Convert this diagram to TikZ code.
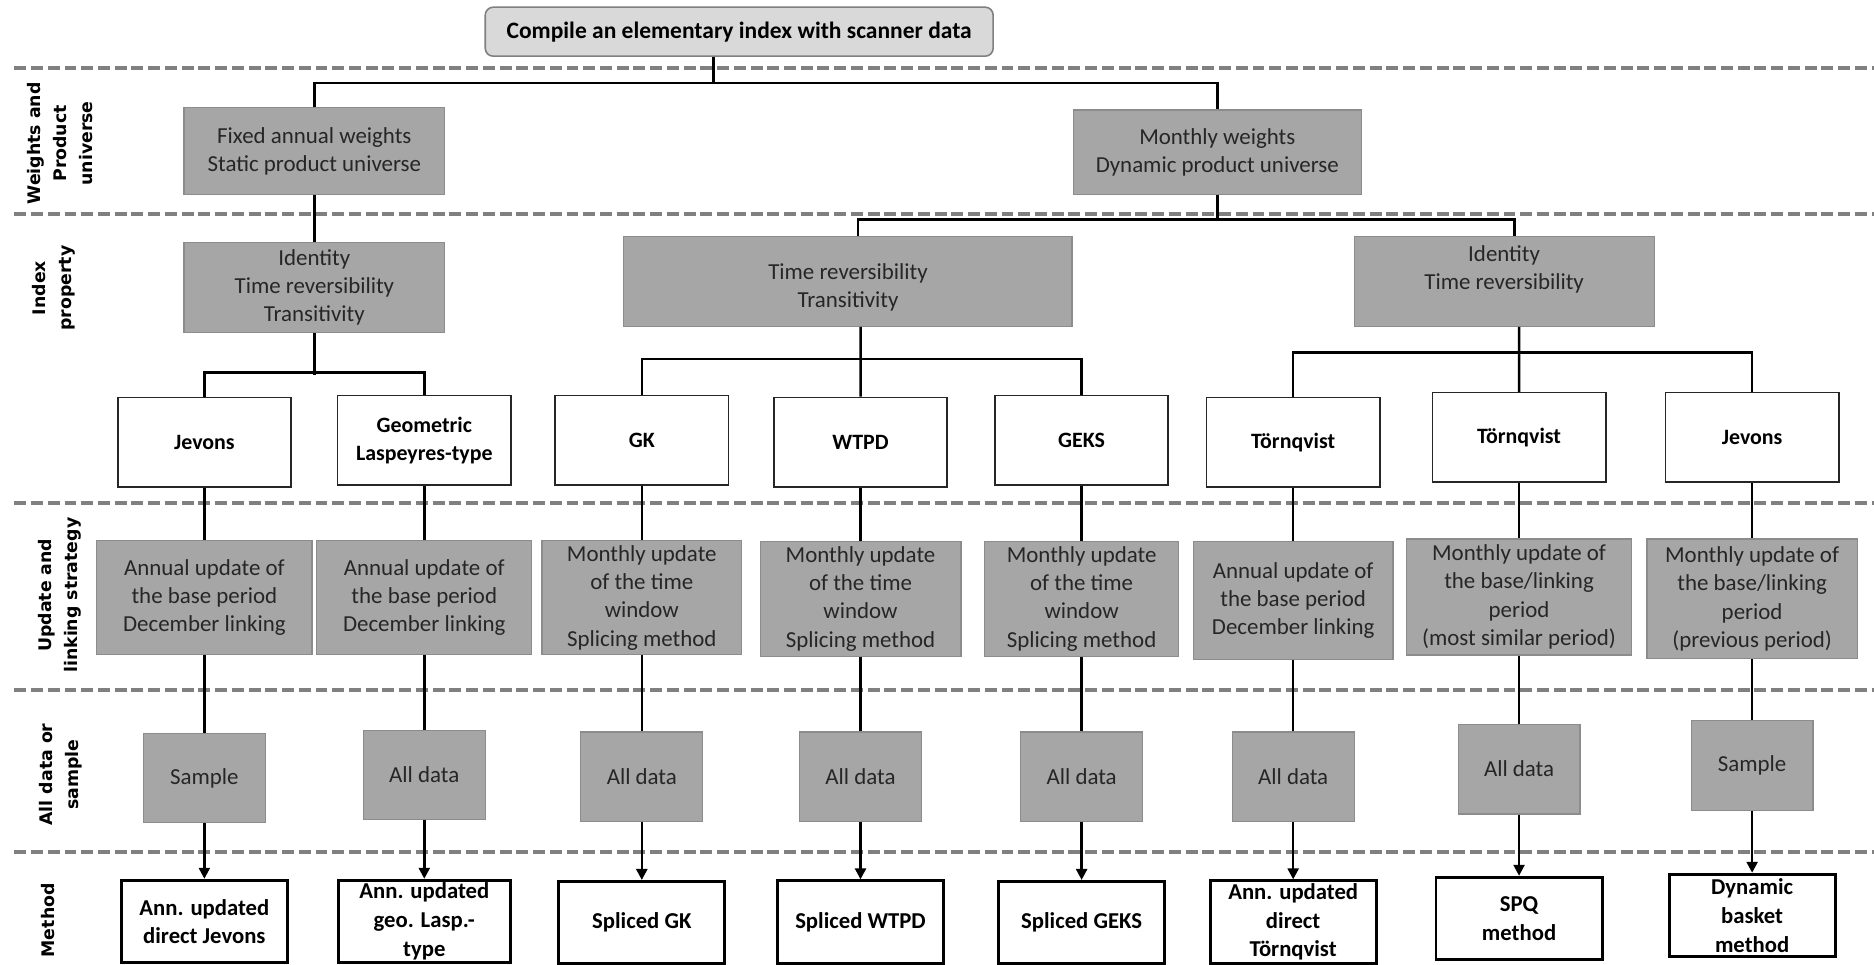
\documentclass[tikz,border=0pt]{standalone}
\usepackage{fontspec}
\setmainfont{Carlito}
\newfontfamily\sidefont{DejaVu Sans}
\usetikzlibrary{arrows.meta}
\definecolor{boxgray} {HTML}{A6A6A6}
\definecolor{boxedge} {HTML}{8C8C8C}
\definecolor{topgray} {HTML}{D9D9D9}
\definecolor{rulegray}{HTML}{808080}
\definecolor{ink}     {HTML}{262626}
\tikzset{
  headbox/.style={draw=rulegray,line width=0.8pt,rounded corners=4pt,fill=topgray,
                  minimum width=255pt,minimum height=24.6pt,inner sep=0pt,
                  font=\fontsize{11.8}{14}\selectfont\bfseries},
  greybox/.style={draw=boxedge,line width=0.6pt,fill=boxgray,align=center,
                  inner sep=0pt,text=ink,font=\fontsize{11.5}{14.2}\selectfont},
  indexbox/.style={draw=black!85,line width=0.8pt,fill=white,align=center,
                   inner sep=0pt,minimum width=87pt,minimum height=45pt,
                   font=\fontsize{11}{14.4}\selectfont\bfseries},
  methodbox/.style={draw=black,line width=1.5pt,fill=white,align=center,
                    inner sep=0pt,minimum width=83.4pt,minimum height=41.4pt,
                    font=\fontsize{11.4}{14.4}\selectfont\bfseries},
  databox/.style={greybox,minimum width=61.2pt,minimum height=45pt},
  updbox/.style={greybox,minimum height=57pt},
  rowlabel/.style={rotate=90,align=center,
                   font=\sidefont\bfseries\fontsize{8.7}{13}\selectfont},
  divider/.style={rulegray,line width=2pt,dash pattern=on 6pt off 2.4pt},
  link/.style={line width=1.25pt},
  arrow/.style={link,-{Triangle[length=5.5pt,width=5.5pt]}}
}
\begin{document}
\begin{tikzpicture}[x=0.6pt,y=-0.6pt]
  \useasboundingbox (0,0) rectangle (1568,807);

  % row dividers
  \foreach \y in {57,179,421,577,713}
    \draw[divider] (12,\y) -- (1568,\y);

  % row labels
  \node[rowlabel] (lab1) at (50,120) {Weights and\\Product\\universe};
  \node[rowlabel] (lab2) at (45,241) {Index\\property};
  \node[rowlabel] (lab3) at (50,498) {Update and\\linking strategy};
  \node[rowlabel] (lab4) at (51,648) {All data or\\sample};
  \node[rowlabel] (lab5) at (40,770) {Method};

  % top and weights
  \node[headbox] (top) at (618.5,26.5) {Compile an elementary index with scanner data};
  \node[greybox,minimum width=130.8pt,minimum height=43.8pt] (fixed) at (263,126.5)
    {Fixed annual weights\\Static product universe};
  \node[greybox,minimum width=144.6pt,minimum height=42.6pt] (monthly) at (1018.5,127.5)
    {Monthly weights\\Dynamic product universe};

  % index property
  \node[greybox,minimum width=130.8pt,minimum height=45pt] (itt) at (263,240.5)
    {Identity\\Time reversibility\\Transitivity};
  \node[greybox,minimum width=225pt,minimum height=45pt] (tt) at (709.5,235.5)
    {\mbox{}\\Time reversibility\\Transitivity};
  \node[greybox,minimum width=150.6pt,minimum height=45pt] (it) at (1258.5,235.5)
    {Identity\\Time reversibility\\\mbox{}};

  % index formulas
  \node[indexbox] (jev)  at (171,370)    {Jevons};
  \node[indexbox] (geo)  at (355,368.5)  {Geometric\\Laspeyres-type};
  \node[indexbox] (gk)   at (537,368.5)  {GK};
  \node[indexbox] (wtpd) at (720,370)    {WTPD};
  \node[indexbox] (geks) at (905,368.5)  {GEKS};
  \node[indexbox] (tq)   at (1082,370)   {Törnqvist};
  \node[indexbox] (tqm)  at (1271,366)   {Törnqvist};
  \node[indexbox] (jevd) at (1466,366)   {Jevons};

  % update and linking
  \node[updbox,minimum width=108pt] (upa) at (171,500)
    {Annual update of\\the base period\\December linking};
  \node[updbox,minimum width=108pt] (upb) at (355,500)
    {Annual update of\\the base period\\December linking};
  \node[updbox,minimum width=100.2pt] (upc) at (537,500)
    {Monthly update\\of the time\\window\\Splicing method};
  \node[updbox,minimum width=100.8pt,minimum height=57.6pt] (upd) at (720,501)
    {Monthly update\\of the time\\window\\Splicing method};
  \node[updbox,minimum width=97.2pt,minimum height=57.6pt] (upe) at (905,501)
    {Monthly update\\of the time\\window\\Splicing method};
  \node[updbox,minimum width=100.2pt,minimum height=59.4pt] (upf) at (1082,502.5)
    {Annual update of\\the base period\\December linking};
  \node[updbox,minimum width=112.8pt,minimum height=58.2pt] (upg) at (1271,499.5)
    {Monthly update of\\the base/linking\\period\\(most similar period)};
  \node[updbox,minimum width=105.6pt,minimum height=60pt] (uph) at (1466,501)
    {Monthly update of\\the base/linking\\period\\(previous period)};

  % data
  \node[databox] (dta) at (171,651)    {Sample};
  \node[databox] (dtb) at (355,648.5)  {All data};
  \node[databox] (dtc) at (537,650)    {All data};
  \node[databox] (dtd) at (720,650)    {All data};
  \node[databox] (dte) at (905,650)    {All data};
  \node[databox] (dtf) at (1082,650)   {All data};
  \node[databox] (dtg) at (1271,643.5) {All data};
  \node[databox] (dth) at (1466,640.5) {Sample};

  % methods
  \node[methodbox] (mta) at (171,771)   {Ann. updated\\direct Jevons};
  \node[methodbox,minimum width=86.4pt] (mtb) at (355,771)
    {Ann. updated\\geo. Lasp.-\\type};
  \node[methodbox] (mtc) at (537,772)   {Spliced GK};
  \node[methodbox] (mtd) at (720,771.5) {Spliced WTPD};
  \node[methodbox] (mte) at (905,772)   {Spliced GEKS};
  \node[methodbox] (mtf) at (1082,771.5){Ann. updated\\direct\\Törnqvist};
  \node[methodbox] (mtg) at (1271,768.5){SPQ\\method};
  \node[methodbox] (mth) at (1466,766)  {Dynamic\\basket\\method};

  % tree connectors
  \draw[link] ([xshift=-12.9pt]top.south) -- ++(0,23);
  \draw[link] (fixed.north) -- ++(0,-20) -| (monthly.north);
  \draw[link] (fixed) -- (itt);
  \draw[link] (monthly.south) -- ++(0,21);
  \draw[link] ([xshift=5.1pt]tt.north) -- ++(0,-14) -| ([xshift=5.1pt]it.north);
  \draw[link] (itt.south) -- ++(0,35);
  \draw[link] (jev.north) -- ++(0,-20) -| (geo.north);
  \draw[link] ([xshift=6.3pt]tt.south) -- (wtpd.north);
  \draw[link] (gk.north) -- ++(0,-30) -| (geks.north);
  \draw[link] ([xshift=7.5pt]it.south) -- (tqm.north);
  \draw[link] (tq.north) -- ++(0,-37) -| (jevd.north);

  \foreach \a/\b in {jev/upa,geo/upb,gk/upc,wtpd/upd,geks/upe,tq/upf,tqm/upg,jevd/uph,
                     upa/dta,upb/dtb,upc/dtc,upd/dtd,upe/dte,upf/dtf,upg/dtg,uph/dth}
    \draw[link] (\a) -- (\b);
  \foreach \a/\b in {dta/mta,dtb/mtb,dtc/mtc,dtd/mtd,dte/mte,dtf/mtf,dtg/mtg,dth/mth}
    \draw[arrow] (\a) -- (\b);
\end{tikzpicture}
\end{document}
